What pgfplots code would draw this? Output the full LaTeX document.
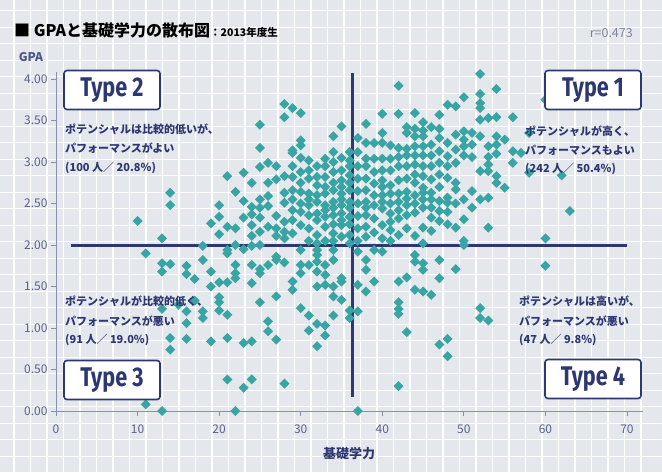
\documentclass[border=0pt]{standalone}
\usepackage{fontspec}
\usepackage{graphicx}
\usepackage{pgfplots}
\pgfplotsset{compat=1.18}
\setmainfont{Noto Sans CJK JP}
\newfontfamily\typefont{Fira Sans}
\definecolor{bgc}{HTML}{E4E8ED}
\definecolor{tealc}{HTML}{38A4A4}
\definecolor{navy}{HTML}{2D3770}
\definecolor{axc}{HTML}{8890B0}
\definecolor{tickc}{HTML}{5A6288}
\definecolor{rc}{HTML}{80869A}
\pgfdeclareplotmark{dia}{%
  \pgfpathmoveto{\pgfqpoint{0pt}{\pgfplotmarksize}}%
  \pgfpathlineto{\pgfqpoint{\pgfplotmarksize}{0pt}}%
  \pgfpathlineto{\pgfqpoint{0pt}{-\pgfplotmarksize}}%
  \pgfpathlineto{\pgfqpoint{-\pgfplotmarksize}{0pt}}%
  \pgfpathclose\pgfusepathqfill}
\newcommand{\typebox}[3]{\node[draw=navy, line width=1.6pt, fill=white, rounded corners=3pt, minimum width=96pt, minimum height=39pt, inner sep=0pt, text=navy] at (#1pt,#2pt) {\scalebox{0.8}[1]{\typefont\fontsize{27}{27}\selectfont\bfseries #3}};}
\newcommand{\ann}[3]{\node[anchor=west, inner sep=0pt, text=navy, font=\fontsize{11}{11}\selectfont\bfseries] at (#1pt,{472pt-#2pt}) {#3};}
\begin{document}
\begin{tikzpicture}
\path[use as bounding box] (0,0) rectangle (662pt,472pt);
\clip (0,0) rectangle (662pt,472pt);
\fill[bgc] (0,0) rectangle (662pt,472pt);
\foreach \i in {0,...,38} {\draw[white, line width=1.2pt] ({14pt+\i*16.5pt},0pt) -- ({14pt+\i*16.5pt},472pt);}
\foreach \j in {0,...,27} {\draw[white, line width=1.2pt] (0pt,{15.7pt+\j*16.5pt}) -- (662pt,{15.7pt+\j*16.5pt});}
\begin{axis}[
  at={(56pt,61pt)}, anchor=south west,
  scale only axis, width=587.3pt, height=338.6pt,
  xmin=0, xmax=72, ymin=0, ymax=4.08,
  axis lines=left,
  axis line style={-, draw=axc, line width=0.8pt},
  tick style={draw=axc, line width=0.8pt},
  major tick length=5pt,
  tick align=outside,
  xtick={0,10,20,30,40,50,60,70},
  ytick={0,0.5,1,1.5,2,2.5,3,3.5,4},
  tick label style={font=\fontsize{12}{12}\selectfont, text=tickc},
  xticklabel style={yshift=-5pt},
  yticklabel style={/pgf/number format/.cd, fixed, fixed zerofill, precision=2},
  /pgf/number format/assume math mode=true,
  clip=false,
]
\addplot[only marks, color=tealc, mark=dia, mark size=5pt, mark options={fill=tealc}] table {
x y
10 2.29
11 1.90
11 0.08
13 2.08
13 1.78
13 1.68
13 1.23
13 0.00
14 2.63
14 2.48
14 1.77
14 0.88
14 0.74
15 1.28
16 1.75
16 1.65
16 1.20
16 1.06
16 0.87
17 1.59
17 1.33
18 1.99
18 1.82
18 1.20
18 1.12
19 2.26
19 1.68
19 1.50
19 0.84
20 2.48
20 2.34
20 2.13
20 1.55
20 1.37
20 1.31
20 1.21
21 2.83
21 2.22
21 1.94
21 1.90
21 1.55
21 1.16
21 0.88
21 0.38
22 2.64
22 2.20
22 2.00
22 1.76
22 1.66
22 1.60
22 0.00
23 2.87
23 2.53
23 2.33
23 1.95
23 0.82
23 0.28
24 2.75
24 2.46
24 2.37
24 2.24
24 2.11
24 1.99
24 1.76
24 1.54
24 0.84
24 0.38
25 3.45
25 3.17
25 2.94
25 2.55
25 2.45
25 2.33
25 2.16
25 2.00
25 1.71
25 1.66
25 1.31
26 2.99
26 2.75
26 2.59
26 2.47
26 2.22
26 1.76
26 1.08
26 0.96
27 2.95
27 2.79
27 2.35
27 2.20
27 2.11
27 1.86
27 1.82
27 1.38
27 0.86
28 3.70
28 3.54
28 2.83
28 2.63
28 2.51
28 2.28
28 2.16
28 2.08
28 1.79
28 0.33
29 3.65
29 3.14
29 3.11
29 2.82
29 2.66
29 2.42
29 2.14
29 1.56
29 1.46
29 2.30
29 2.55
29 2.95
30 3.59
30 3.26
30 3.20
30 3.05
30 2.88
30 2.64
30 2.50
30 2.24
30 1.94
30 1.76
30 1.66
30 1.24
30 2.40
30 2.75
31 3.02
31 2.80
31 2.62
31 2.48
31 2.36
31 2.20
31 1.76
31 1.15
31 0.97
31 2.90
31 2.55
31 2.05
32 2.72
32 2.60
32 2.52
32 2.38
32 2.12
32 1.94
32 1.88
32 1.80
32 1.68
32 1.50
32 1.05
32 0.78
32 2.95
32 2.82
32 2.30
32 2.02
33 3.04
33 2.82
33 2.62
33 2.48
33 2.34
33 2.22
33 1.76
33 1.64
33 1.52
33 1.03
33 0.91
33 2.95
33 2.70
33 2.42
33 2.05
34 3.31
34 3.12
34 3.00
34 2.88
34 2.66
34 2.52
34 2.36
34 2.14
34 1.94
34 1.82
34 1.50
34 1.38
34 1.15
34 2.75
34 2.45
34 2.25
34 2.05
35 3.43
35 2.78
35 2.62
35 2.48
35 2.38
35 2.24
35 1.60
35 1.56
35 1.34
35 3.05
35 2.90
35 2.70
35 2.55
35 2.30
35 2.10
36 3.12
36 3.02
36 2.84
36 2.66
36 2.52
36 2.34
36 2.12
36 1.21
36 1.12
36 2.95
36 2.75
36 2.45
36 2.25
36 2.02
37 3.29
37 3.12
37 1.92
37 1.52
37 1.20
37 0.00
37 2.95
37 2.80
37 2.65
37 2.50
37 2.35
37 2.20
37 2.05
38 3.46
38 3.23
38 3.04
38 2.80
38 2.66
38 2.52
38 2.36
38 2.22
38 2.10
38 1.82
38 1.70
38 1.44
38 2.95
38 2.45
39 3.23
39 3.04
39 2.74
39 2.60
39 2.48
39 2.32
39 1.94
39 1.56
39 2.88
39 2.15
40 3.58
40 3.35
40 3.23
40 3.04
40 2.90
40 2.78
40 2.60
40 2.44
40 2.24
40 1.92
40 2.70
40 2.52
40 2.08
41 3.04
41 2.72
41 2.62
41 2.38
41 2.18
41 2.90
41 2.50
41 2.28
41 2.05
41 3.20
42 3.92
42 3.58
42 3.17
42 3.06
42 2.78
42 2.62
42 2.52
42 2.32
42 2.12
42 1.56
42 1.31
42 1.23
42 1.17
42 0.30
42 2.95
42 2.42
43 3.42
43 3.35
43 3.16
43 3.08
43 2.80
43 2.64
43 2.48
43 2.36
43 2.20
43 1.61
43 0.95
43 2.95
43 2.56
44 3.59
44 3.40
44 3.31
44 3.19
44 2.97
44 2.75
44 2.39
44 2.11
44 1.88
44 1.80
44 1.46
44 2.60
44 2.50
44 2.85
44 3.08
45 3.48
45 3.38
45 3.31
45 3.19
45 3.08
45 2.95
45 2.83
45 2.69
45 2.55
45 2.45
45 2.21
45 2.02
45 1.78
45 1.70
45 1.44
45 2.63
46 3.42
46 3.21
46 3.08
46 2.79
46 2.63
46 2.33
46 2.17
46 1.40
46 2.95
46 2.45
46 2.55
47 3.57
47 3.40
47 3.29
47 3.13
47 2.99
47 2.85
47 2.53
47 2.41
47 2.29
47 1.82
47 1.60
47 0.80
47 2.70
48 3.69
48 3.23
48 3.07
48 2.95
48 2.81
48 2.57
48 2.51
48 2.25
48 0.87
48 0.66
48 2.40
49 3.67
49 3.33
49 2.99
49 2.75
49 2.67
49 2.21
49 1.71
49 2.50
49 3.15
50 3.78
50 3.37
50 3.27
50 3.19
50 3.08
50 2.55
50 2.31
50 2.05
50 2.00
51 3.35
51 3.21
51 3.06
51 2.65
51 2.45
52 4.06
52 3.82
52 3.71
52 3.65
52 3.51
52 3.31
52 2.89
52 2.55
52 1.24
52 1.12
53 3.53
53 3.19
53 3.06
53 2.97
53 2.89
53 2.57
53 2.21
53 1.09
54 3.88
54 3.54
54 3.31
54 3.21
54 3.10
54 2.83
54 2.75
55 3.27
55 2.69
56 3.54
56 3.13
56 2.99
57 3.11
58 3.35
58 2.87
60 3.75
60 2.08
60 1.75
62 2.84
63 2.41
};
\draw[navy, line width=3pt] (axis cs:1.9,2) -- (axis cs:70,2);
\draw[navy, line width=3pt] (axis cs:36.4,0.17) -- (axis cs:36.4,4.07);
\end{axis}
\typebox{112}{382}{Type 2}
\typebox{593}{382}{Type 1}
\typebox{112}{92}{Type 3}
\typebox{593}{93}{Type 4}
\ann{65}{129}{ポテンシャルは比較的低いが、}
\ann{65}{148}{パフォーマンスがよい}
\ann{65}{168}{(100 人／ 20.8\%)}
\ann{525}{131}{ポテンシャルが高く、}
\ann{525}{150}{パフォーマンスもよい}
\ann{525}{169}{(242 人／ 50.4\%)}
\ann{65}{301}{ポテンシャルが比較的低く、}
\ann{65}{321}{パフォーマンスが悪い}
\ann{65}{340}{(91 人／ 19.0\%)}
\ann{519}{301}{ポテンシャルは高いが、}
\ann{519}{321}{パフォーマンスが悪い}
\ann{519}{340}{(47 人／ 9.8\%)}
\node[anchor=west, inner sep=0pt, font=\fontsize{16}{16}\selectfont\bfseries] at (14pt,442pt) {■ GPAと基礎学力の散布図{\fontsize{10.5}{10.5}\selectfont ：2013年度生}};
\node[anchor=east, inner sep=0pt, text=rc, font=\fontsize{12.5}{12.5}\selectfont] at (633pt,439pt) {r=0.473};
\node[inner sep=0pt, text=navy!85, font=\fontsize{12}{12}\selectfont\bfseries] at (31pt,415pt) {GPA};
\node[inner sep=0pt, text=navy, font=\fontsize{13}{13}\selectfont\bfseries] at (349pt,18pt) {基礎学力};
\end{tikzpicture}
\end{document}
